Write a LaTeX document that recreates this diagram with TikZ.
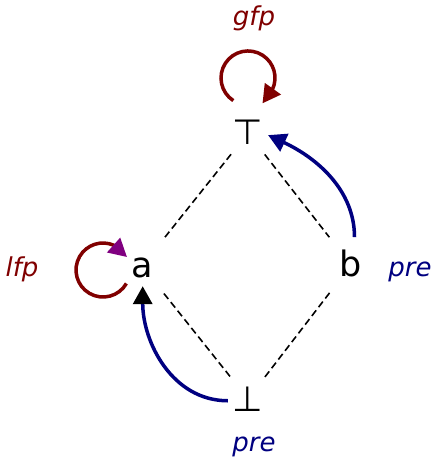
\documentclass[tikz,border=0pt]{standalone}
\usepackage{fontspec}
\setmainfont{DejaVu Sans}
\usetikzlibrary{arrows.meta,positioning}
\definecolor{fixred}{RGB}{128,0,0}
\definecolor{prenavy}{RGB}{0,0,128}
\definecolor{tippurple}{RGB}{128,0,128}

\begin{document}
\begin{tikzpicture}[x=1pt, y=1pt,
    elem/.style={circle, inner sep=0pt, minimum size=40pt, text height=24pt, text depth=0pt, font=\fontsize{35}{40}\selectfont},
    lbl/.style={anchor=base, font=\fontsize{26}{30}\selectfont\itshape},
    order/.style={line width=1.6pt, dash pattern=on 7pt off 4pt},
    fix/.style={line width=3.5pt, fixred},
    pre/.style={line width=3.5pt, prenavy},
    head/.style={-{Triangle[length=18pt, width=19pt, #1]}}, head/.default={}]
    \useasboundingbox (0,0) rectangle (433,459);

    \node[elem] (top) at (248,326) {⊤};
    \node[elem] (a) at (142,193) {a};
    \node[elem] (b) at (351,194) {b};
    \node[elem] (bot) at (248,60) {⊥};

    \node[lbl, fixred] (gfp) at (254,433) {gfp};
    \node[lbl, fixred] (lfp) at (22,182) {lfp};
    \node[lbl, prenavy] (preb) at (410,182) {pre};
    \node[lbl, prenavy] (prebot) at (254,8) {pre};

    % order of the lattice
    \draw[order, shorten <=7pt, shorten >=15pt] (top) -- (a);
    \draw[order, shorten <=7pt, shorten >=15pt] (top) -- (b);
    \draw[order, shorten <=15pt, shorten >=7pt] (a) -- (bot);
    \draw[order, shorten <=15pt, shorten >=7pt] (b) -- (bot);

    % fixpoints
    \draw[fix, head] ([shift={(-14.7,32.4)}]top.center) arc[start angle=237, end angle=-25, radius=27] -- ++(-10,-14);
    \draw[fix, head={color=tippurple}] ([shift={(-15.6,-17.5)}]a.center) arc[start angle=-30, end angle=-293.5, radius=27] -- ++(13.2,-11.8);

    % pre
    \draw[pre, head, shorten <=8pt] (b.80) to[out=90, in=-25] (top.-6);
    \draw[pre, head={color=black}] (bot.185) to[out=180, in=-90] (a.-88);
\end{tikzpicture}
\end{document}
